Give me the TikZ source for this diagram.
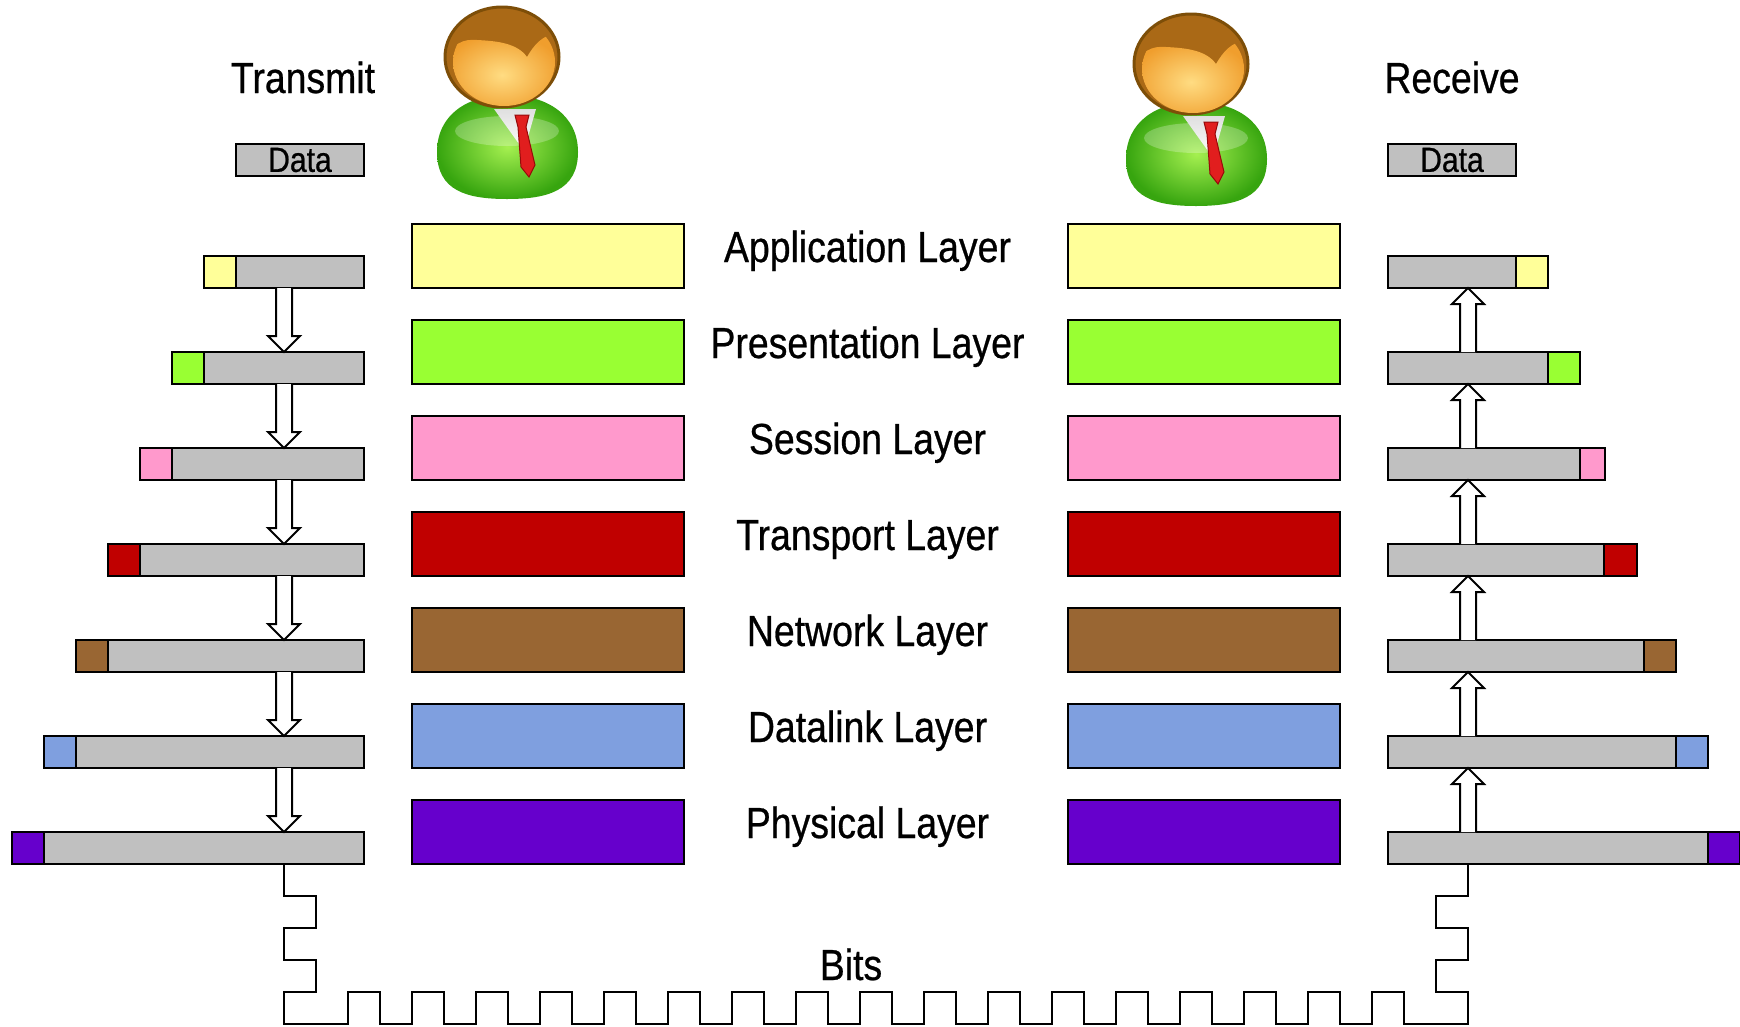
\documentclass[tikz,border=0pt]{standalone}
\usepackage{fontspec}
\setmainfont{Liberation Sans}[FakeStretch=0.86, FakeBold=0.6]
\usetikzlibrary{calc}

% layer colours
\definecolor{appc}{HTML}{FFFF99}
\definecolor{prsc}{HTML}{99FF33}
\definecolor{sesc}{HTML}{FF99CC}
\definecolor{trnc}{HTML}{C00000}
\definecolor{netc}{HTML}{996633}
\definecolor{dlkc}{HTML}{7F9FDF}
\definecolor{phyc}{HTML}{6600CC}
\definecolor{pdu}{HTML}{C0C0C0}
% person icon colours
\definecolor{bodyhi}{RGB}{165,240,80}
\definecolor{bodylo}{RGB}{55,165,15}
\definecolor{facehi}{RGB}{255,220,130}
\definecolor{facelo}{RGB}{240,158,45}
\definecolor{hairc}{RGB}{170,105,22}
\definecolor{hairdark}{RGB}{125,78,8}
\definecolor{tiec}{RGB}{225,30,30}
\definecolor{tiedark}{RGB}{150,10,10}

\tikzset{
  layerbox/.style={draw, line width=2pt, inner sep=0pt, outer sep=0pt,
    minimum width=272pt, minimum height=64pt, anchor=north west},
  bar/.style={draw, line width=2pt, inner sep=0pt, outer sep=0pt,
    minimum height=32pt},
  lbl/.style={anchor=base, inner sep=0pt, font=\fontsize{43.5}{50}\selectfont},
  databox/.style={draw, line width=2pt, fill=pdu, inner sep=0pt, outer sep=0pt,
    minimum width=128pt, minimum height=32pt, font=\fontsize{35}{40}\selectfont},
  hollow/.style={draw, line width=2pt, fill=white, line join=miter},
  wave/.style={draw, line width=2pt, line join=miter},
  person/.pic={
    % green body
    \shade[inner color=bodyhi, outer color=bodylo]
      (-65,95) .. controls (-65,58) and (-35,38) .. (5,38)
      .. controls (45,38) and (76,58) .. (76,95)
      .. controls (76,134) and (45,142) .. (5,142)
      .. controls (-35,142) and (-65,134) .. (-65,95) -- cycle;
    \fill[white, opacity=0.25] (5,74) ellipse (52 and 15);
    % collar and tie
    \shade[top color=gray!25, bottom color=white]
      (-8,52) -- (34,52) -- (22,94) -- cycle;
    \fill[tiec, draw=tiedark, line width=1pt]
      (13,58) -- (27,58) -- (24,70) -- (33,108) -- (27,120)
      -- (19,110) -- (16,70) -- cycle;
    % head with hair
    \fill[hairc, draw=hairdark, line width=3pt] (0,0) ellipse (57 and 50);
    \begin{scope}
      \clip (2,5) ellipse (51 and 44);
      \shade[inner color=facehi, outer color=facelo]
        (-60,8) .. controls (-50,-15) and (-38,-18) .. (-25,-17)
        .. controls (-5,-16) and (15,-14) .. (25,0)
        .. controls (32,-12) and (40,-22) .. (56,-24)
        -- (60,60) -- (-60,60) -- cycle;
    \end{scope}
  }
}

\begin{document}
\begin{tikzpicture}[x=1pt, y=-1pt]
\useasboundingbox (0,0) rectangle (1740,1026);

% users
\pic at (502,57) {person};
\pic at (1191,64) {person};

% headings and user data
\node[lbl] (tx) at (303,93) {Transmit};
\node[lbl] (rx) at (1452,93) {Receive};
\node[databox] (Ld) at (300,160) {Data};
\node[databox] (Rd) at (1452,160) {Data};

% the seven layers, with the PDU built up / stripped at each layer
% (\w = payload width and \h = header width on the receiving side)
\foreach \k/\c/\t/\w/\h in {0/appc/Application Layer/128/32,
    1/prsc/Presentation Layer/160/32, 2/sesc/Session Layer/192/25,
    3/trnc/Transport Layer/216/33, 4/netc/Network Layer/256/32,
    5/dlkc/Datalink Layer/288/32, 6/phyc/Physical Layer/320/32}{
  \node[layerbox, fill=\c] (LL\k) at (412,{224+96*\k}) {};
  \node[layerbox, fill=\c] (RL\k) at (1068,{224+96*\k}) {};
  \node[lbl] (T\k) at (867.5,{262+96*\k}) {\t};
  % sender side: header on the left
  \node[bar, fill=pdu, anchor=north east, minimum width={(128+32*\k)*1pt}]
    (Lg\k) at (364,{256+96*\k}) {};
  \node[bar, fill=\c, anchor=north east, minimum width=32pt]
    (Lt\k) at (Lg\k.north west) {};
  % receiver side: header on the right
  \node[bar, fill=pdu, anchor=north west, minimum width={\w*1pt}]
    (Rg\k) at (1388,{256+96*\k}) {};
  \node[bar, fill=\c, anchor=north west, minimum width={\h*1pt}]
    (Rt\k) at (Rg\k.north east) {};
}

% hollow arrows between the PDUs
\foreach \k in {0,...,5}{
  \pgfmathtruncatemacro{\nk}{\k+1}
  \draw[hollow] let \p1=($(Lg\k.south east)+(-80,0)$), \p2=(Lg\nk.north) in
    (\x1-8,\y1) -- (\x1-8,\y2+16) -- (\x1-16,\y2+16) -- (\x1,\y2)
    -- (\x1+16,\y2+16) -- (\x1+8,\y2+16) -- (\x1+8,\y1);
  \draw[hollow] let \p1=($(Rg\nk.north west)+(80,0)$), \p2=(Rg\k.south) in
    (\x1-8,\y1) -- (\x1-8,\y2-16) -- (\x1-16,\y2-16) -- (\x1,\y2)
    -- (\x1+16,\y2-16) -- (\x1+8,\y2-16) -- (\x1+8,\y1);
}

% bit stream over the medium
\draw[wave] ($(Lg6.south east)+(-80,0)$)
  -- ++(0,32) -- ++(32,0) -- ++(0,32) -- ++(-32,0)
  -- ++(0,32) -- ++(32,0) -- ++(0,32) -- ++(-32,0)
  -- ++(0,32) -- ++(64,0)
  \foreach \i in {1,...,17}{ -- ++(0,-32) -- ++(32,0) -- ++(0,32) -- ++(32,0) }
  -- ++(32,0)
  -- ++(0,-32) -- ++(-32,0) -- ++(0,-32) -- ++(32,0)
  -- ++(0,-32) -- ++(-32,0) -- ++(0,-32) -- ++(32,0)
  -- ($(Rg6.south west)+(80,0)$);
\node[lbl] (bits) at (851,980) {Bits};
\end{tikzpicture}
\end{document}
